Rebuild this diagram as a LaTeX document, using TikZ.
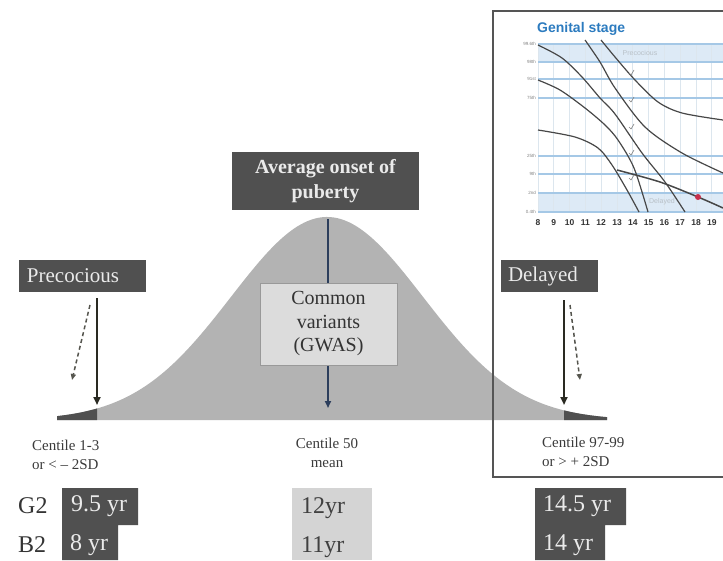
\documentclass[tikz,border=0pt]{standalone}
\usepackage{fontspec}
\setmainfont{Liberation Serif}
\setsansfont{Liberation Sans}
\usetikzlibrary{arrows.meta}
\definecolor{boxdark}{HTML}{505050}
\definecolor{boxtext}{HTML}{EAEAEA}
\definecolor{bell}{HTML}{B3B3B3}
\definecolor{tailc}{HTML}{505050}
\definecolor{cvfill}{HTML}{DCDCDC}
\definecolor{midfill}{HTML}{D4D4D4}
\definecolor{navy}{HTML}{2C3E5C}
\definecolor{arr}{HTML}{2A2A22}
\definecolor{labtext}{HTML}{3A3A3A}
\definecolor{bandblue}{HTML}{DDEAF6}
\definecolor{lineblue}{HTML}{A5C8E6}
\definecolor{gridc}{HTML}{DCE6EE}
\definecolor{titleblue}{HTML}{2C7BBF}
\definecolor{curvec}{HTML}{474747}
\definecolor{dotred}{HTML}{C8304C}
\definecolor{framec}{HTML}{555555}
\tikzset{
  darkbox/.style={fill=boxdark, text=boxtext, inner ysep=0pt, minimum height=32pt, align=left, font=\fontsize{21}{25}\selectfont},
  solidarrow/.style={draw=arr, line width=2pt, -{Triangle[length=8pt,width=7pt]}},
  dasharrow/.style={draw=arr!80, line width=1.5pt, dash pattern=on 4pt off 3pt, -{Triangle[length=6pt,width=5pt]}},
  centlab/.style={text=labtext, font=\fontsize{15}{19.5}\selectfont, inner sep=0pt},
  vallab/.style={text=boxtext, font=\fontsize{24}{28}\selectfont, inner sep=0pt, anchor=west},
  sexlab/.style={text=labtext!90!black, font=\fontsize{24}{28}\selectfont, inner sep=0pt, anchor=west},
  ylab/.style={text=gray, font=\sffamily\fontsize{4.5}{5}\selectfont, inner sep=0pt, anchor=east},
  agelab/.style={text=black!80, font=\sffamily\bfseries\fontsize{8.5}{9}\selectfont, inner sep=0pt},
  gcurve/.style={draw=curvec, line width=1.2pt},
  tick/.style={draw=gray, line width=0.6pt}
}
\begin{document}
\begin{tikzpicture}[x=1pt,y=-1pt]
\useasboundingbox (0,0) rectangle (723,560);
\clip (0,0) rectangle (723,560);

% bell curve
\fill[bell] (57,420) -- plot[domain=57:607,samples=150] (\x,{420-203*exp(-0.5*((\x-327)/96)^2)}) -- (607,420) -- cycle;
\fill[tailc] (57,420) -- plot[domain=57:97,samples=20] (\x,{420-203*exp(-0.5*((\x-327)/96)^2)}) -- (97,420) -- cycle;
\fill[tailc] (564,420) -- plot[domain=564:607,samples=20] (\x,{420-203*exp(-0.5*((\x-327)/96)^2)}) -- (607,420) -- cycle;

% average onset
\node[fill=boxdark, text=boxtext, minimum width=187pt, minimum height=58pt, inner sep=0pt,
      align=center, font=\bfseries\fontsize{20}{25}\selectfont] (avg) at (325.5,181) {Average onset of\\puberty};
\coordinate (peak) at (328,219);
\coordinate (meanend) at (328,408);
\draw[navy, line width=2pt, -{Triangle[length=7pt,width=6pt]}] (peak) -- (meanend);
\node[fill=cvfill, draw=gray!80, line width=0.8pt, minimum width=137pt, minimum height=82pt, inner sep=0pt,
      align=center, text=black!80, font=\fontsize{20}{23.5}\selectfont] (cv) at (328.5,324) {Common\\variants\\(GWAS)};

% precocious
\node[darkbox, inner xsep=8pt, text width=111pt] (prec) at (82.5,276) {Precocious};
\coordinate (pa1) at (97,298);
\coordinate (pa2) at (97,405);
\draw[solidarrow] (pa1) -- (pa2);
\coordinate (pd1) at (90,305);
\coordinate (pd2) at (72,380);
\draw[dasharrow] (pd1) -- (pd2);

% delayed
\node[darkbox, inner xsep=7pt, text width=83pt] (del) at (549.5,276) {Delayed};
\coordinate (da1) at (564,300);
\coordinate (da2) at (564,405);
\draw[solidarrow] (da1) -- (da2);
\coordinate (dd1) at (570,305);
\coordinate (dd2) at (580,380);
\draw[dasharrow] (dd1) -- (dd2);

% inset chart
\begin{scope}
\fill[bandblue] (538,44) rectangle (723,62);
\fill[bandblue] (538,193) rectangle (723,212);
\foreach \k in {0,...,11} { \draw[gridc, line width=0.8pt] ({538+15.8*\k},44) -- ({538+15.8*\k},212); }
\foreach \yy in {44,62,79,98,156,174,193,212} { \draw[lineblue, line width=1.4pt] (538,\yy) -- (723,\yy); }
\node[ylab] (y1) at (536,44) {99.6th};
\node[ylab] (y2) at (536,62) {98th};
\node[ylab] (y3) at (536,79) {91st};
\node[ylab] (y4) at (536,98) {75th};
\node[ylab] (y5) at (536,156) {25th};
\node[ylab] (y6) at (536,174) {9th};
\node[ylab] (y7) at (536,193) {2nd};
\node[ylab] (y8) at (536,212) {0.4th};
\foreach \a [count=\k from 0] in {8,...,19} { \node[agelab] (age\a) at ({538+15.8*\k},223) {\a}; }
\node[text=titleblue, font=\sffamily\bfseries\fontsize{14}{15}\selectfont, inner sep=0pt, anchor=west] (gs) at (537,29) {Genital stage};
\node[text=bandblue!60!gray, font=\sffamily\fontsize{7}{8}\selectfont, inner sep=0pt] (pl) at (640,53) {Precocious};
\node[text=bandblue!60!gray, font=\sffamily\fontsize{7}{8}\selectfont, inner sep=0pt] (dl) at (662,202) {Delayed};
\draw[gcurve] plot[smooth] coordinates {(601,40) (615,57) (635,80) (658,102) (682,113) (723,120)};
\draw[gcurve] plot[smooth] coordinates {(585,40) (600,62) (615,88) (645,127) (682,153) (723,173)};
\draw[gcurve] plot[smooth] coordinates {(538,45) (562,58) (582,77) (600,98) (615,114) (642,153) (665,182) (685,212)};
\draw[gcurve] plot[smooth] coordinates {(538,80) (560,90) (585,108) (605,125) (618,140) (634,168) (648,212)};
\draw[gcurve] plot[smooth] coordinates {(538,130) (575,137) (598,148) (612,165) (627,190) (639,212)};
\draw[gcurve, line width=1.5pt] plot[smooth] coordinates {(617,170) (660,182) (698,197) (723,208)};
\fill[dotred] (698,197) circle (3pt);
\foreach \cy in {73,100,127,153,178} { \draw[tick] (629,\cy) -- (631,{\cy+2}) -- (634,{\cy-3}); }
\end{scope}
\draw[framec, line width=2pt] (740,11) -- (493,11) -- (493,477) -- (740,477);

% centile labels
\node[centlab, align=left, anchor=west] (c1) at (32,455) {Centile 1-3\\or < – 2SD};
\node[centlab, align=center] (c50) at (327,453) {Centile 50\\mean};
\node[centlab, align=left, anchor=west] (c97) at (542,452) {Centile 97-99\\or > + 2SD};

% bottom values
\fill[boxdark] (62,488) -- (138,488) -- (138,525) -- (118,525) -- (118,560) -- (62,560) -- cycle;
\fill[midfill] (292,488) rectangle (372,560);
\fill[boxdark] (535,488) -- (626,488) -- (626,525) -- (605,525) -- (605,560) -- (535,560) -- cycle;
\node[sexlab] (g2) at (18,506) {G2};
\node[sexlab] (b2) at (18,545) {B2};
\node[vallab] (v1) at (71,506) {9.5 yr};
\node[vallab] (v2) at (70,545) {8 yr};
\node[vallab, text=black!75] (v3) at (301,508) {12yr};
\node[vallab, text=black!75] (v4) at (301,547) {11yr};
\node[vallab] (v5) at (543,506) {14.5 yr};
\node[vallab] (v6) at (543,545) {14 yr};
\end{tikzpicture}
\end{document}
